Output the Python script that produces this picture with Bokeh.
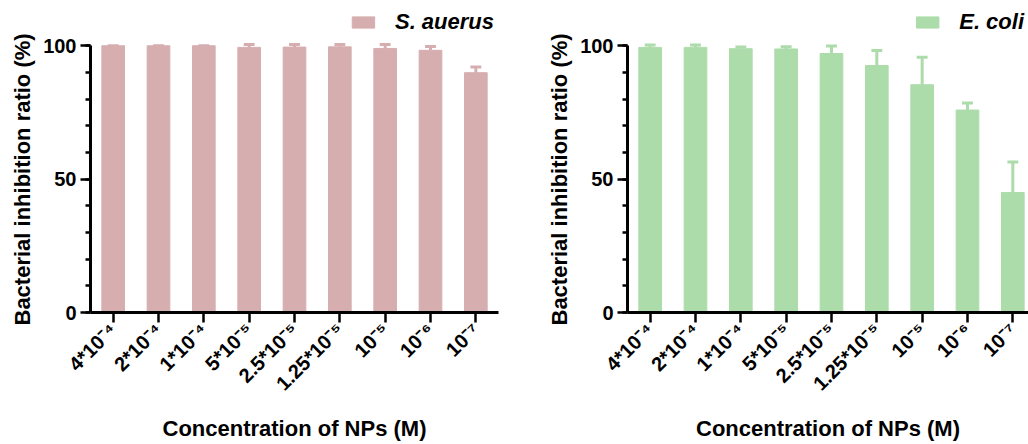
from bokeh.plotting import figure
from bokeh.layouts import row
from bokeh.models import (Range1d, FixedTicker, SingleIntervalTicker, Legend, LegendItem,
                          ColumnDataSource, Title)
from bokeh.embed import file_html
from bokeh.resources import INLINE

# ---- data ----
concentrations = ["4*10⁻⁴", "2*10⁻⁴", "1*10⁻⁴", "5*10⁻⁵", "2.5*10⁻⁵",
                  "1.25*10⁻⁵", "10⁻⁵", "10⁻⁶", "10⁻⁷"]
s_aureus_mean = [100.0, 100.0, 100.0, 99.4, 99.5, 99.6, 99.0, 98.3, 89.9]
s_aureus_sd = [0.0, 0.0, 0.0, 1.1, 1.0, 0.9, 1.5, 1.4, 2.1]
e_coli_mean = [99.4, 99.4, 98.9, 98.8, 97.1, 92.6, 85.4, 75.9, 45.0]
e_coli_sd = [0.9, 0.9, 0.6, 0.8, 2.8, 5.6, 10.3, 2.6, 11.4]

PINK = "#D7AEAF"
GREEN = "#ADDCAB"
FONT = "Liberation Sans"


def make_panel(means, sds, color, name, width, border_left, border_right, x_end):
    p = figure(width=width, height=444, output_backend="svg", toolbar_location=None,
               x_range=Range1d(0, x_end), y_range=Range1d(0, 115.1),
               min_border_left=border_left, min_border_right=border_right,
               min_border_top=5, min_border_bottom=132)
    p.outline_line_color = None
    p.xgrid.visible = False
    p.ygrid.visible = False
    xs = [i + 0.5 for i in range(len(concentrations))]
    src = ColumnDataSource(dict(x=xs, top=means,
                                hi=[m + s for m, s in zip(means, sds)],
                                xl=[x - 0.12 for x in xs], xr=[x + 0.12 for x in xs]))
    bars = p.vbar(x="x", top="top", bottom=0, width=0.5, source=src,
                  fill_color=color, line_color=color, line_width=1)
    p.segment(x0="x", y0="top", x1="x", y1="hi", source=src, line_color=color, line_width=3)
    p.segment(x0="xl", y0="hi", x1="xr", y1="hi", source=src, line_color=color, line_width=3)

    # y axis
    ya = p.yaxis[0]
    ya.ticker = SingleIntervalTicker(interval=50, num_minor_ticks=5)
    ya.bounds = (0, 100)
    # x axis
    xa = p.xaxis[0]
    xa.ticker = FixedTicker(ticks=xs)
    xa.major_label_overrides = {x: c for x, c in zip(xs, concentrations)}
    xa.major_label_orientation = 0.785398
    xa.axis_label = "Concentration of NPs (M)"
    xa.minor_tick_line_color = None
    for ax in (xa, ya):
        ax.axis_line_width = 3
        ax.axis_line_color = "black"
        ax.major_tick_line_width = 2.5
        ax.minor_tick_line_width = 2.5
        ax.major_tick_in = 0
        ax.major_tick_out = 10
        ax.minor_tick_in = 0
        ax.minor_tick_out = 5
        ax.major_label_text_font = FONT
        ax.major_label_text_font_style = "bold"
        ax.major_label_text_font_size = "20px"
        ax.major_label_text_color = "black"
        ax.axis_label_text_font = FONT
        ax.axis_label_text_font_style = "bold"
        ax.axis_label_text_font_size = "22px"
        ax.axis_label_text_color = "black"
    ya.major_label_standoff = 4
    xa.major_label_standoff = 4
    xa.axis_label_standoff = 11

    ytitle = Title(text="Bacterial inhibition ratio (%)", align="left", offset=-13,
                   standoff=11, text_font=FONT, text_font_style="bold",
                   text_font_size="22px", text_color="black")
    p.add_layout(ytitle, "left")

    legend = Legend(items=[LegendItem(label=name, renderers=[bars])], location="top_right")
    legend.border_line_color = None
    legend.background_fill_alpha = 0
    legend.margin = 4
    legend.padding = 0
    legend.glyph_width = 28
    legend.glyph_height = 14
    legend.label_standoff = 18
    legend.label_text_font = FONT
    legend.label_text_font_style = "bold italic"
    legend.label_text_font_size = "22px"
    legend.label_text_color = "black"
    p.add_layout(legend)
    return p


left = make_panel(s_aureus_mean, s_aureus_sd, PINK, "S. auerus", 503, 90, 5, 9.0)
right = make_panel(e_coli_mean, e_coli_sd, GREEN, "E. coli", 525, 124, 0, 8.846)

layout = row(left, right)
open("out.html", "w").write(file_html(layout, INLINE))
